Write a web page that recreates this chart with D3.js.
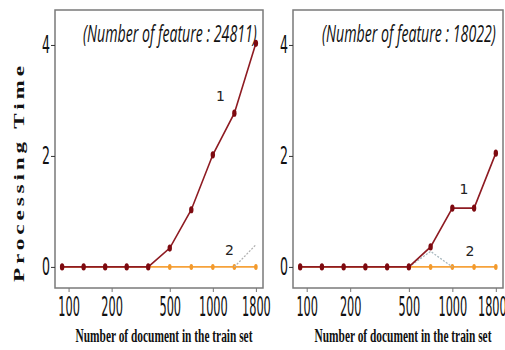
<!DOCTYPE html>
<html>
<head>
<meta charset="utf-8">
<script src="https://cdn.jsdelivr.net/npm/d3@7"></script>
<style>
  body { margin: 0; background: #fff; }
  svg { display: block; }
</style>
</head>
<body>
<div id="chart"></div>
<script>
// x positions are the 10 training-set sizes, in order
const docSteps = [0, 1, 2, 3, 4, 5, 6, 7, 8, 9];
const xTickPos = [0.3, 2.3, 5, 7, 9];
const xTickLabels = ['100', '200', '500', '1000', '1800'];
const yTicks = [0, 2, 4];

const titles = ['(Number of feature : 24811)', '(Number of feature : 18022)'];

// panel 1
const left1 = [0, 0, 0, 0, 0, 0.34, 1.03, 2.02, 2.77, 4.03];
const left2 = [0, 0, 0, 0, 0, 0, 0, 0, 0, 0];
const left3 = [null, null, null, null, null, null, null, null, 0, 0.4];
// panel 2
const right1 = [0, 0, 0, 0, 0, 0, 0.36, 1.06, 1.06, 2.05];
const right2 = [0, 0, 0, 0, 0, 0, 0, 0, 0, 0];
const right3 = [null, null, null, null, null, 0, 0.28, 0, null, null];

// series labels [x step, y value, text]
const leftNotes = [[7.35, 3.06, '1'], [7.77, 0.29, '2']];
const rightNotes = [[7.53, 1.39, '1'], [7.81, 0.27, '2']];

const width = 505;
const height = 350;

const svg = d3.select('#chart')
  .append('svg')
  .attr('width', width)
  .attr('height', height);

const panels = [
  { x0: 55, x1: 263, s1: left1, s2: left2, s3: left3, notes: leftNotes, title: titles[0], tx: 83, gray: '#b0b0b0', lastShift: 0 },
  { x0: 293, x1: 503, s1: right1, s2: right2, s3: right3, notes: rightNotes, title: titles[1], tx: 322, gray: '#a9b8bf', lastShift: -4 }
];
const plotTop = 10;
const plotBottom = 288;

// squeeze a text horizontally to a given width (the source fonts are condensed)
const squeeze = (sel, w, shift) => {
  sel.each(function (d, i) {
    const t = d3.select(this);
    const target = typeof w === 'function' ? w(d, i) : w;
    const s = target / this.getComputedTextLength();
    const tx = (+t.attr('x') || 0) + (shift ? shift(d, i) : 0);
    const ty = +t.attr('y') || 0;
    t.attr('x', 0).attr('y', 0)
      .attr('transform', 'translate(' + tx + ',' + ty + ') scale(' + s + ',1)');
  });
};

const drawPanel = (p) => {
  const x = d3.scaleLinear().domain([-0.33, 9.33]).range([p.x0, p.x1]);
  const y = d3.scaleLinear().domain([-0.38, 4.63]).range([plotBottom, plotTop]);
  const g = svg.append('g');

  // frame
  g.append('rect')
    .attr('x', p.x0)
    .attr('y', plotTop)
    .attr('width', p.x1 - p.x0)
    .attr('height', plotBottom - plotTop)
    .attr('fill', 'none')
    .attr('stroke', '#7a7a7a')
    .attr('stroke-width', 1.5);

  // y axis
  const yAxis = g.append('g')
    .attr('transform', 'translate(' + p.x0 + ',0)')
    .call(d3.axisLeft(y).tickValues(yTicks).tickSize(4).tickPadding(1).tickFormat(d3.format('d')));
  yAxis.select('.domain').remove();
  yAxis.selectAll('line').attr('stroke', '#333');
  yAxis.selectAll('text')
    .attr('font-family', 'DejaVu Sans')
    .attr('font-size', 25)
    .attr('fill', '#111')
    .call(squeeze, 8);

  // x axis
  const xAxis = g.append('g')
    .attr('transform', 'translate(0,' + plotBottom + ')')
    .call(d3.axisBottom(x).tickValues(xTickPos).tickSize(4).tickPadding(6)
      .tickFormat((d, i) => xTickLabels[i]));
  xAxis.select('.domain').remove();
  xAxis.selectAll('line').attr('stroke', '#777');
  xAxis.selectAll('text')
    .attr('font-family', 'DejaVu Sans')
    .attr('font-size', 26)
    .attr('fill', '#111')
    .call(squeeze, (d, i) => xTickLabels[i].length * 7.2,
      (d, i) => (i === xTickLabels.length - 1 ? p.lastShift : 0));

  // x title
  g.append('text')
    .attr('x', (p.x0 + p.x1) / 2 + 5)
    .attr('y', 342)
    .attr('text-anchor', 'middle')
    .attr('font-family', 'Liberation Serif')
    .attr('font-weight', 'bold')
    .attr('font-size', 19)
    .attr('fill', '#111')
    .text('Number of document in the train set')
    .call(squeeze, 177);

  // panel title
  g.append('text')
    .attr('x', p.tx)
    .attr('y', 42)
    .attr('font-family', 'Open Sans')
    .attr('font-style', 'italic')
    .attr('font-size', 23)
    .attr('fill', '#111')
    .text(p.title)
    .call(squeeze, 174);

  const line = d3.line()
    .defined((d) => d != null)
    .x((d, i) => x(docSteps[i]))
    .y((d) => y(d));

  // series 2 (orange)
  g.append('path')
    .datum(p.s2)
    .attr('d', line)
    .attr('fill', 'none')
    .attr('stroke', '#f6a23a')
    .attr('stroke-width', 1.6);
  g.selectAll('.m2')
    .data(p.s2)
    .enter()
    .append('ellipse')
    .attr('cx', (d, i) => x(docSteps[i]))
    .attr('cy', (d) => y(d))
    .attr('rx', 1.8)
    .attr('ry', 3)
    .attr('fill', '#f39a2c');

  // series 3 (gray dashed)
  g.append('path')
    .datum(p.s3)
    .attr('d', line)
    .attr('fill', 'none')
    .attr('stroke', p.gray)
    .attr('stroke-width', 1.3)
    .attr('stroke-dasharray', '2,1.5');

  // series 1 (dark red)
  g.append('path')
    .datum(p.s1)
    .attr('d', line)
    .attr('fill', 'none')
    .attr('stroke', '#8e1b22')
    .attr('stroke-width', 1.6);
  g.selectAll('.m1')
    .data(p.s1)
    .enter()
    .append('ellipse')
    .attr('cx', (d, i) => x(docSteps[i]))
    .attr('cy', (d) => y(d))
    .attr('rx', 2.2)
    .attr('ry', 3.6)
    .attr('fill', '#7d0a10');

  // series labels
  g.selectAll('.note')
    .data(p.notes)
    .enter()
    .append('text')
    .attr('x', (d) => x(d[0]))
    .attr('y', (d) => y(d[1]))
    .attr('text-anchor', 'middle')
    .attr('dominant-baseline', 'middle')
    .attr('font-family', 'DejaVu Sans')
    .attr('font-size', 14)
    .attr('fill', '#222')
    .text((d) => d[2]);
};

panels.forEach(drawPanel);

// y title, wide letter spacing as in the source
svg.append('g')
  .attr('transform', 'translate(24,172) rotate(-90)')
  .append('text')
  .attr('text-anchor', 'middle')
  .attr('font-family', 'Liberation Serif')
  .attr('font-weight', 'bold')
  .attr('font-size', 15)
  .attr('letter-spacing', 2.5)
  .attr('fill', '#111')
  .text('Processing Time')
  .call(squeeze, 220);
</script>
</body>
</html>
